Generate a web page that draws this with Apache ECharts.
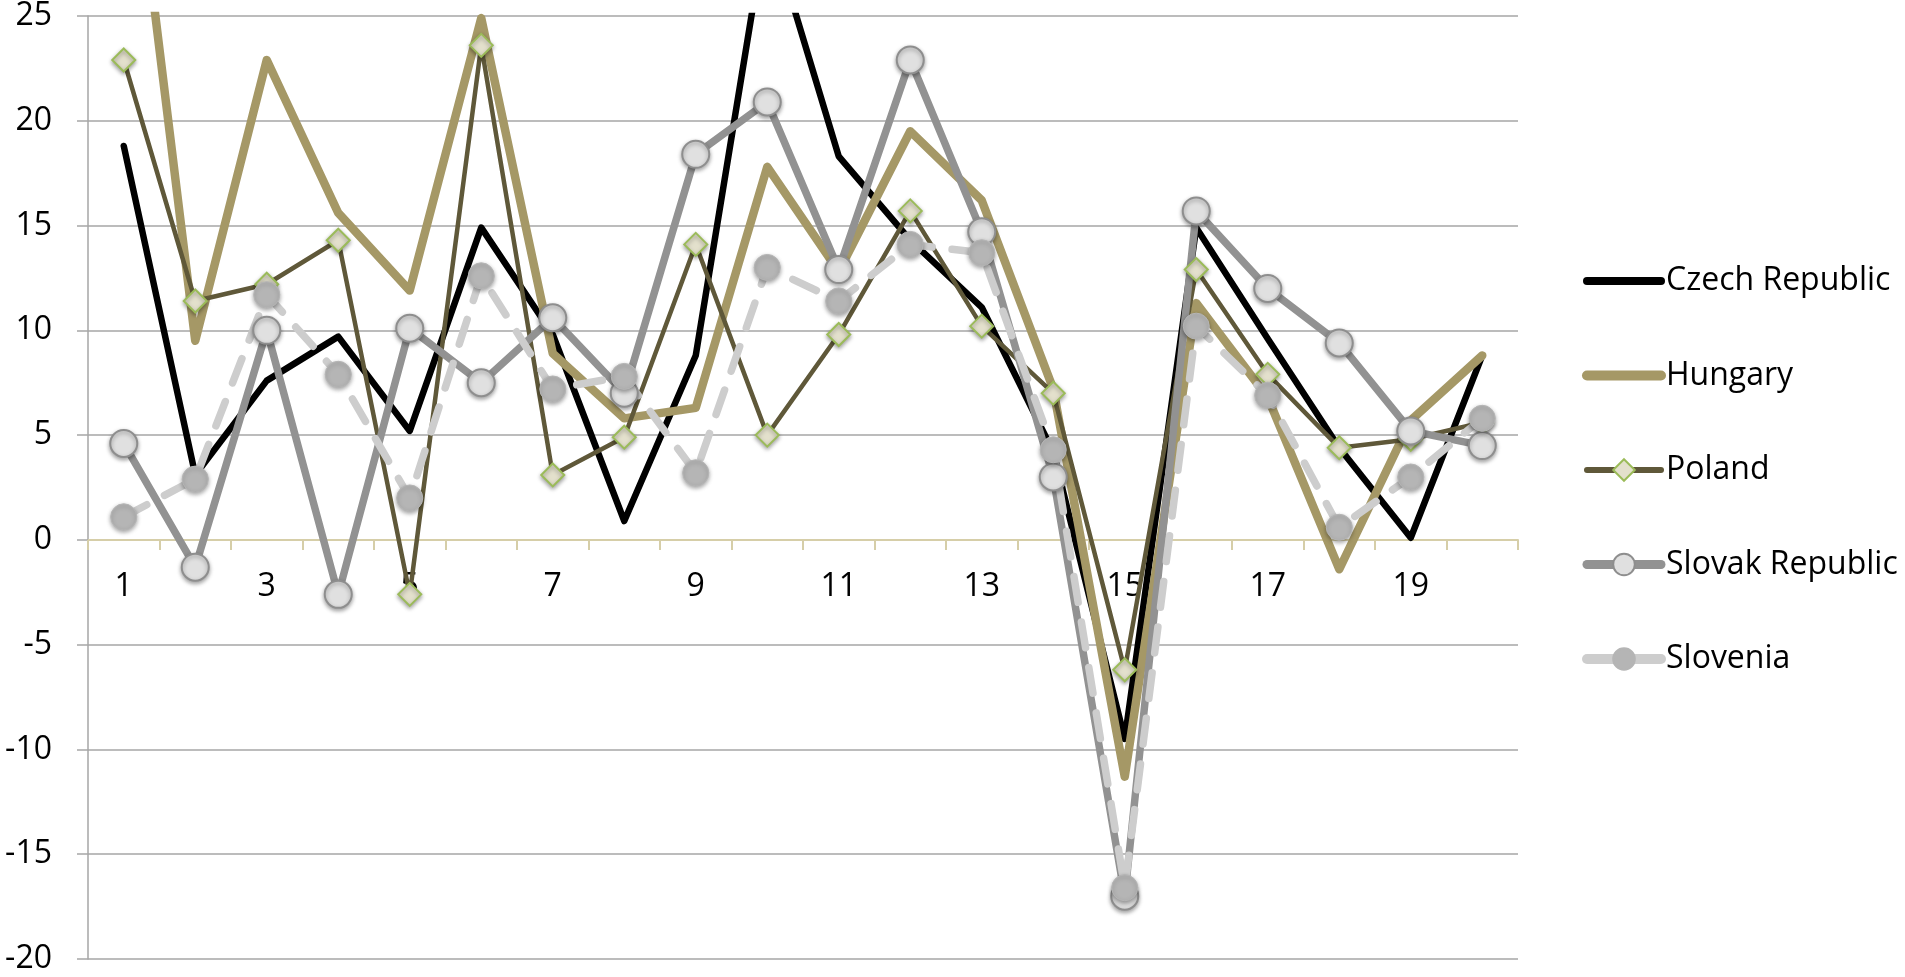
<!DOCTYPE html>
<html>
<head>
<meta charset="utf-8">
<script src="https://cdn.jsdelivr.net/npm/echarts@6/dist/echarts.min.js"></script>
<style>
  html, body { margin: 0; padding: 0; background: #ffffff; }
  #chart { width: 1905px; height: 977px; }
</style>
</head>
<body>
<div id="chart"></div>
<script>
// Period index shown along the horizontal axis
const periods = ['1','2','3','4','5','6','7','8','9','10','11','12','13','14','15','16','17','18','19','20'];

// Annual values per country
const czechRepublic = [18.8, 3.1, 7.6, 9.7, 5.2, 14.9, 9.8, 0.9, 8.8, 29.6, 18.3, 14.3, 11.1, 4.2, -9.5, 14.9, 9.6, 4.4, 0.1, 8.8];
const hungary       = [37.3, 9.5, 22.9, 15.6, 11.9, 24.9, 8.9, 5.8, 6.3, 17.8, 12.8, 19.5, 16.2, 7.2, -11.3, 11.3, 6.8, -1.4, 5.7, 8.8];
const poland        = [22.9, 11.4, 12.2, 14.3, -2.6, 23.6, 3.1, 4.9, 14.1, 5.0, 9.8, 15.7, 10.2, 7.0, -6.2, 12.9, 7.9, 4.4, 4.8, 5.6];
const slovakRepublic= [4.6, -1.3, 10.0, -2.6, 10.1, 7.5, 10.6, 7.0, 18.4, 20.9, 12.9, 22.9, 14.7, 3.0, -17.0, 15.7, 12.0, 9.4, 5.2, 4.5];
const slovenia      = [1.1, 2.9, 11.7, 7.9, 2.0, 12.6, 7.2, 7.8, 3.2, 13.0, 11.4, 14.1, 13.7, 4.3, -16.6, 10.2, 6.9, 0.6, 3.0, 5.8];

// Value axis range
const yMin = -20;
const yMax = 25;
const yStep = 5;

const FONT = '"Open Sans", "Noto Sans", sans-serif';
const markerShadow = { shadowBlur: 4, shadowColor: 'rgba(0,0,0,0.35)', shadowOffsetX: 0, shadowOffsetY: 2 };

// Plot area
const CHART_H = 977;
const GRID = { left: 88, right: 387, top: 16, bottom: 18 };
const gridHeight = CHART_H - GRID.top - GRID.bottom;
// Lift the category axis (line, ticks and labels) from the bottom edge up to the value 0
const zeroOffset = -gridHeight * (0 - yMin) / (yMax - yMin);

const chart = echarts.init(document.getElementById('chart'), null, { renderer: 'canvas' });

chart.setOption({
  animation: false,
  backgroundColor: '#ffffff',
  textStyle: { fontFamily: FONT },
  grid: Object.assign({ containLabel: false }, GRID),
  legend: {
    orient: 'vertical',
    left: 1582,
    top: 261,
    padding: 0,
    itemWidth: 74,
    itemHeight: 27,
    itemGap: 54.5,
    textStyle: { fontFamily: FONT, fontSize: 32, color: '#000000', lineHeight: 40 },
    data: [
      { name: 'Czech Republic', itemStyle: { opacity: 0 }, lineStyle: { width: 8, type: 'solid', cap: 'round' } },
      { name: 'Hungary', itemStyle: { opacity: 0 }, lineStyle: { width: 10, type: 'solid', cap: 'round' } },
      { name: 'Poland', lineStyle: { width: 6, type: 'solid', cap: 'round' } },
      { name: 'Slovak Republic', lineStyle: { width: 9, type: 'solid', cap: 'round' } },
      { name: 'Slovenia', lineStyle: { width: 10, type: 'solid', cap: 'round' } }
    ]
  },
  xAxis: {
    type: 'category',
    data: periods,
    boundaryGap: true,
    position: 'bottom',
    offset: zeroOffset,
    axisLine: { onZero: false, lineStyle: { color: '#D6CEA8', width: 2 } },
    axisTick: { show: true, interval: 0, length: 10, lineStyle: { color: '#D6CEA8', width: 2 } },
    axisLabel: { interval: 1, margin: 31, fontFamily: FONT, fontSize: 32, color: '#000000' },
    splitLine: { show: false }
  },
  yAxis: {
    type: 'value',
    min: yMin,
    max: yMax,
    interval: yStep,
    axisLine: { show: true, lineStyle: { color: '#A6A6A6', width: 1.5 } },
    axisTick: { show: true, length: 11, lineStyle: { color: '#A6A6A6', width: 1.5 } },
    axisLabel: { margin: 36, fontFamily: FONT, fontSize: 32, color: '#000000' },
    splitLine: { show: true, lineStyle: { color: '#A6A6A6', width: 1.5 } }
  },
  series: [
    {
      name: 'Czech Republic',
      type: 'line',
      data: czechRepublic,
      symbol: 'none',
      itemStyle: { color: '#000000' },
      lineStyle: { color: '#000000', width: 6.5, cap: 'round', join: 'round' }
    },
    {
      name: 'Hungary',
      type: 'line',
      data: hungary,
      symbol: 'none',
      itemStyle: { color: '#A59866' },
      lineStyle: { color: '#A59866', width: 8.5, cap: 'round', join: 'round' }
    },
    {
      name: 'Poland',
      type: 'line',
      data: poland,
      symbol: 'diamond',
      symbolSize: 23,
      itemStyle: Object.assign({ color: '#E3E0CC', borderColor: '#9BBB59', borderWidth: 2 }, markerShadow),
      lineStyle: { color: '#5F5839', width: 4.5, cap: 'round', join: 'round' }
    },
    {
      name: 'Slovak Republic',
      type: 'line',
      data: slovakRepublic,
      symbol: 'circle',
      symbolSize: 27,
      itemStyle: Object.assign({ color: '#E0E0E0', borderColor: '#8E8E8E', borderWidth: 2 }, markerShadow),
      lineStyle: { color: '#929292', width: 7.5, cap: 'round', join: 'round' }
    },
    {
      name: 'Slovenia',
      type: 'line',
      data: slovenia,
      symbol: 'circle',
      symbolSize: 26,
      itemStyle: Object.assign({ color: '#B5B5B5', borderColor: '#B5B5B5', borderWidth: 1 }, markerShadow),
      lineStyle: { color: '#CDCDCD', width: 7.5, type: [26, 20], cap: 'round', join: 'round' }
    }
  ]
});
</script>
</body>
</html>
